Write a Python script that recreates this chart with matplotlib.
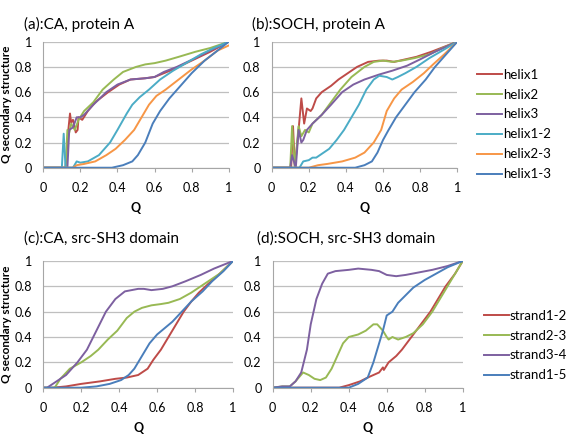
import numpy as np
import matplotlib
matplotlib.use("Agg")
import matplotlib.pyplot as plt

plt.rcParams['font.family'] = ['Lato', 'DejaVu Sans']

# ===========================================================================
# (a) CA, protein A
a_helix1_x = [0, 0.12, 0.135, 0.144, 0.15, 0.16, 0.175, 0.185, 0.19, 0.21, 0.24, 0.28, 0.35, 0.41, 0.47, 0.55, 0.6, 0.65, 0.7, 0.8, 0.9, 1.0]
a_helix1_y = [0, 0, 0.3, 0.43, 0.36, 0.38, 0.28, 0.3, 0.4, 0.38, 0.45, 0.52, 0.6, 0.66, 0.7, 0.71, 0.72, 0.75, 0.78, 0.85, 0.92, 1.0]
a_helix2_x = [0, 0.12, 0.13, 0.14, 0.15, 0.17, 0.19, 0.22, 0.27, 0.32, 0.38, 0.43, 0.5, 0.55, 0.6, 0.66, 0.73, 0.82, 0.9, 1.0]
a_helix2_y = [0, 0, 0.3, 0.28, 0.35, 0.3, 0.38, 0.45, 0.52, 0.62, 0.7, 0.76, 0.8, 0.82, 0.83, 0.85, 0.88, 0.92, 0.95, 1.0]
a_helix3_x = [0, 0.13, 0.14, 0.16, 0.18, 0.2, 0.22, 0.27, 0.34, 0.4, 0.47, 0.55, 0.6, 0.65, 0.72, 0.82, 0.9, 1.0]
a_helix3_y = [0, 0, 0.3, 0.32, 0.4, 0.4, 0.42, 0.5, 0.6, 0.66, 0.7, 0.71, 0.72, 0.76, 0.8, 0.87, 0.93, 1.0]
a_helix12_x = [0, 0.1, 0.11, 0.12, 0.16, 0.18, 0.2, 0.24, 0.3, 0.36, 0.4, 0.45, 0.48, 0.52, 0.57, 0.63, 0.7, 0.77, 0.85, 0.92, 1.0]
a_helix12_y = [0, 0, 0.27, 0, 0, 0.05, 0.04, 0.05, 0.1, 0.2, 0.3, 0.43, 0.5, 0.56, 0.62, 0.7, 0.77, 0.83, 0.9, 0.95, 1.0]
a_helix23_x = [0, 0.16, 0.18, 0.22, 0.28, 0.34, 0.39, 0.44, 0.49, 0.53, 0.57, 0.61, 0.66, 0.73, 0.8, 0.87, 0.94, 1.0]
a_helix23_y = [0, 0, 0.02, 0.03, 0.05, 0.1, 0.15, 0.22, 0.3, 0.4, 0.5, 0.57, 0.62, 0.7, 0.78, 0.85, 0.93, 0.97]
a_helix13_x = [0, 0.37, 0.43, 0.48, 0.51, 0.55, 0.59, 0.63, 0.68, 0.74, 0.8, 0.87, 0.94, 1.0]
a_helix13_y = [0, 0, 0.02, 0.05, 0.1, 0.2, 0.35, 0.45, 0.55, 0.65, 0.75, 0.85, 0.93, 1.0]

# (b) SOCH, protein A
b_helix1_x = [0, 0.105, 0.115, 0.125, 0.145, 0.16, 0.175, 0.19, 0.21, 0.22, 0.24, 0.27, 0.32, 0.36, 0.41, 0.46, 0.52, 0.58, 0.62, 0.66, 0.72, 0.78, 0.86, 0.93, 1.0]
b_helix1_y = [0, 0, 0.33, 0, 0.3, 0.55, 0.35, 0.47, 0.45, 0.47, 0.55, 0.6, 0.65, 0.7, 0.75, 0.8, 0.84, 0.85, 0.85, 0.84, 0.86, 0.88, 0.92, 0.96, 1.0]
b_helix2_x = [0, 0.1, 0.11, 0.125, 0.145, 0.16, 0.18, 0.2, 0.22, 0.27, 0.32, 0.37, 0.43, 0.5, 0.55, 0.6, 0.65, 0.7, 0.77, 0.85, 0.92, 1.0]
b_helix2_y = [0, 0, 0.33, 0, 0.33, 0.25, 0.3, 0.28, 0.35, 0.42, 0.52, 0.62, 0.72, 0.8, 0.84, 0.85, 0.84, 0.85, 0.87, 0.9, 0.95, 1.0]
b_helix3_x = [0, 0.1, 0.11, 0.13, 0.145, 0.16, 0.17, 0.19, 0.22, 0.27, 0.32, 0.38, 0.44, 0.5, 0.58, 0.65, 0.73, 0.8, 0.88, 0.94, 1.0]
b_helix3_y = [0, 0, 0.1, 0, 0.3, 0.2, 0.22, 0.3, 0.35, 0.42, 0.5, 0.6, 0.66, 0.7, 0.74, 0.77, 0.81, 0.86, 0.92, 0.96, 1.0]
b_helix12_x = [0, 0.15, 0.17, 0.2, 0.22, 0.24, 0.28, 0.31, 0.35, 0.39, 0.43, 0.47, 0.51, 0.55, 0.58, 0.62, 0.65, 0.68, 0.72, 0.78, 0.85, 0.92, 1.0]
b_helix12_y = [0, 0, 0.05, 0.06, 0.08, 0.08, 0.12, 0.15, 0.22, 0.3, 0.4, 0.5, 0.62, 0.7, 0.73, 0.72, 0.7, 0.72, 0.75, 0.8, 0.87, 0.93, 1.0]
b_helix23_x = [0, 0.2, 0.25, 0.3, 0.38, 0.45, 0.5, 0.55, 0.59, 0.62, 0.66, 0.7, 0.76, 0.82, 0.87, 0.93, 1.0]
b_helix23_y = [0, 0, 0.02, 0.03, 0.05, 0.08, 0.12, 0.2, 0.3, 0.45, 0.55, 0.62, 0.68, 0.75, 0.82, 0.9, 1.0]
b_helix13_x = [0, 0.45, 0.5, 0.54, 0.57, 0.6, 0.63, 0.67, 0.72, 0.77, 0.83, 0.88, 0.94, 1.0]
b_helix13_y = [0, 0, 0.02, 0.05, 0.12, 0.22, 0.3, 0.4, 0.5, 0.6, 0.7, 0.8, 0.9, 1.0]

# (c) CA, src-SH3 domain
c_s12_x = [0, 0.05, 0.12, 0.2, 0.3, 0.38, 0.44, 0.5, 0.55, 0.58, 0.62, 0.66, 0.7, 0.74, 0.78, 0.82, 0.87, 0.93, 1.0]
c_s12_y = [0, 0, 0.01, 0.03, 0.05, 0.07, 0.08, 0.1, 0.15, 0.22, 0.3, 0.4, 0.5, 0.6, 0.68, 0.75, 0.82, 0.9, 1.0]
c_s23_x = [0, 0.06, 0.09, 0.14, 0.2, 0.25, 0.29, 0.34, 0.39, 0.44, 0.48, 0.52, 0.57, 0.62, 0.66, 0.72, 0.78, 0.85, 0.93, 1.0]
c_s23_y = [0, 0, 0.07, 0.15, 0.2, 0.25, 0.3, 0.38, 0.45, 0.55, 0.6, 0.63, 0.65, 0.66, 0.67, 0.7, 0.75, 0.82, 0.9, 1.0]
c_s34_x = [0, 0.02, 0.07, 0.12, 0.18, 0.23, 0.28, 0.33, 0.38, 0.43, 0.5, 0.53, 0.57, 0.63, 0.68, 0.75, 0.83, 0.9, 1.0]
c_s34_y = [0, 0, 0.05, 0.1, 0.2, 0.3, 0.45, 0.6, 0.7, 0.76, 0.78, 0.78, 0.77, 0.78, 0.8, 0.84, 0.89, 0.94, 1.0]
c_s15_x = [0, 0.2, 0.28, 0.35, 0.41, 0.45, 0.48, 0.52, 0.56, 0.6, 0.64, 0.68, 0.73, 0.78, 0.84, 0.89, 0.95, 1.0]
c_s15_y = [0, 0, 0.01, 0.03, 0.06, 0.1, 0.15, 0.25, 0.35, 0.42, 0.47, 0.52, 0.6, 0.68, 0.76, 0.84, 0.92, 1.0]

# (d) SOCH, src-SH3 domain
d_s12_x = [0, 0.35, 0.4, 0.46, 0.5, 0.53, 0.56, 0.58, 0.585, 0.61, 0.65, 0.68, 0.73, 0.78, 0.83, 0.87, 0.91, 0.96, 1.0]
d_s12_y = [0, 0, 0.02, 0.05, 0.08, 0.1, 0.12, 0.16, 0.14, 0.2, 0.25, 0.3, 0.4, 0.5, 0.6, 0.7, 0.8, 0.9, 1.0]
d_s23_x = [0, 0.05, 0.09, 0.12, 0.16, 0.19, 0.22, 0.25, 0.28, 0.31, 0.34, 0.37, 0.4, 0.45, 0.49, 0.53, 0.55, 0.58, 0.6, 0.61, 0.63, 0.66, 0.7, 0.74, 0.79, 0.84, 0.88, 0.92, 0.96, 1.0]
d_s23_y = [0, 0.01, 0.01, 0.05, 0.12, 0.1, 0.07, 0.06, 0.08, 0.15, 0.25, 0.35, 0.4, 0.42, 0.45, 0.5, 0.5, 0.45, 0.4, 0.38, 0.4, 0.38, 0.4, 0.43, 0.5, 0.6, 0.7, 0.8, 0.9, 1.0]
d_s34_x = [0, 0.05, 0.09, 0.12, 0.15, 0.18, 0.2, 0.23, 0.26, 0.29, 0.33, 0.4, 0.45, 0.52, 0.56, 0.6, 0.65, 0.7, 0.77, 0.84, 0.92, 1.0]
d_s34_y = [0, 0.01, 0.01, 0.05, 0.12, 0.3, 0.5, 0.7, 0.82, 0.9, 0.92, 0.93, 0.94, 0.93, 0.92, 0.89, 0.88, 0.89, 0.91, 0.93, 0.96, 1.0]
d_s15_x = [0, 0.4, 0.45, 0.5, 0.53, 0.56, 0.58, 0.6, 0.63, 0.66, 0.7, 0.74, 0.8, 0.86, 0.92, 1.0]
d_s15_y = [0, 0, 0.03, 0.08, 0.2, 0.35, 0.45, 0.57, 0.6, 0.67, 0.73, 0.79, 0.85, 0.9, 0.95, 1.0]

helix_labels = ['helix1', 'helix2', 'helix3', 'helix1-2', 'helix2-3', 'helix1-3']
strand_labels = ['strand1-2', 'strand2-3', 'strand3-4', 'strand1-5']
titles = ['(a):CA, protein A', '(b):SOCH, protein A', '(c):CA, src-SH3 domain', '(d):SOCH, src-SH3 domain']
ticks = [0, 0.2, 0.4, 0.6, 0.8, 1]
tick_labels = ['0', '0.2', '0.4', '0.6', '0.8', '1']

# excel 2007 colours
red, green, purple = '#BE4B48', '#98B954', '#7D60A0'
cyan, orange, blue = '#4BACC6', '#F79646', '#4A7EBB'

# ===========================================================================
fig = plt.figure(figsize=(5.86, 4.41), dpi=100)
ax_a = fig.add_axes([0.0739, 0.6197, 0.3164, 0.2857])
ax_b = fig.add_axes([0.4636, 0.6197, 0.3167, 0.2857])
ax_c = fig.add_axes([0.0739, 0.1209, 0.3237, 0.2873])
ax_d = fig.add_axes([0.4654, 0.1209, 0.3242, 0.2873])

lw = 1.4
panel_a = [(a_helix1_x, a_helix1_y, red), (a_helix2_x, a_helix2_y, green), (a_helix3_x, a_helix3_y, purple),
           (a_helix12_x, a_helix12_y, cyan), (a_helix23_x, a_helix23_y, orange), (a_helix13_x, a_helix13_y, blue)]
panel_b = [(b_helix1_x, b_helix1_y, red), (b_helix2_x, b_helix2_y, green), (b_helix3_x, b_helix3_y, purple),
           (b_helix12_x, b_helix12_y, cyan), (b_helix23_x, b_helix23_y, orange), (b_helix13_x, b_helix13_y, blue)]
panel_c = [(c_s12_x, c_s12_y, red), (c_s23_x, c_s23_y, green), (c_s34_x, c_s34_y, purple), (c_s15_x, c_s15_y, blue)]
panel_d = [(d_s12_x, d_s12_y, red), (d_s23_x, d_s23_y, green), (d_s34_x, d_s34_y, purple), (d_s15_x, d_s15_y, blue)]

for ax, series, labels in [(ax_a, panel_a, helix_labels), (ax_b, panel_b, helix_labels),
                           (ax_c, panel_c, strand_labels), (ax_d, panel_d, strand_labels)]:
    for (x, y, col), lab in zip(series, labels):
        ax.plot(x, y, color=col, lw=lw, label=lab)
    ax.set_xlim(0, 1)
    ax.set_ylim(0, 1)
    ax.set_xticks(ticks)
    ax.set_xticklabels(tick_labels)
    ax.set_yticks(ticks)
    ax.set_yticklabels(tick_labels)
    ax.grid(axis='y', color='#BFBFBF', lw=0.9)
    ax.set_axisbelow(True)
    for s in ['top', 'right']:
        ax.spines[s].set_visible(False)
    for s in ['left', 'bottom']:
        ax.spines[s].set_color('#A6A6A6')
    ax.tick_params(axis='x', length=3, color='#A6A6A6', labelsize=9, pad=7)
    ax.tick_params(axis='y', length=0, labelsize=9, pad=8)
    ax.set_xlabel('Q', fontweight='bold', fontsize=9, labelpad=6)

for ax in [ax_a, ax_c]:
    ax.set_ylabel('Q secondary structure', fontweight='bold', fontsize=8.5)
    ax.yaxis.set_label_coords(-12 / 586 / ax.get_position().width * 2.6, 0.5)

fig.text(24 / 586, 1 - 24 / 441, titles[0], fontsize=11, va='center', ha='left')
fig.text(252 / 586, 1 - 24 / 441, titles[1], fontsize=11, va='center', ha='left')
fig.text(24 / 586, 1 - 239 / 441, titles[2], fontsize=11, va='center', ha='left')
fig.text(257 / 586, 1 - 239 / 441, titles[3], fontsize=11, va='center', ha='left')

ax_b.legend(loc='upper left', bbox_to_anchor=(470 / 586, 1 - 62 / 441), bbox_transform=fig.transFigure,
            frameon=False, fontsize=9.5, handlelength=1.9, handletextpad=0.1, labelspacing=0.6, borderpad=0)
ax_d.legend(loc='upper left', bbox_to_anchor=(477 / 586, 1 - 303 / 441), bbox_transform=fig.transFigure,
            frameon=False, fontsize=9.5, handlelength=1.9, handletextpad=0.1, labelspacing=0.6, borderpad=0)

plt.savefig('out.png', dpi=100)
